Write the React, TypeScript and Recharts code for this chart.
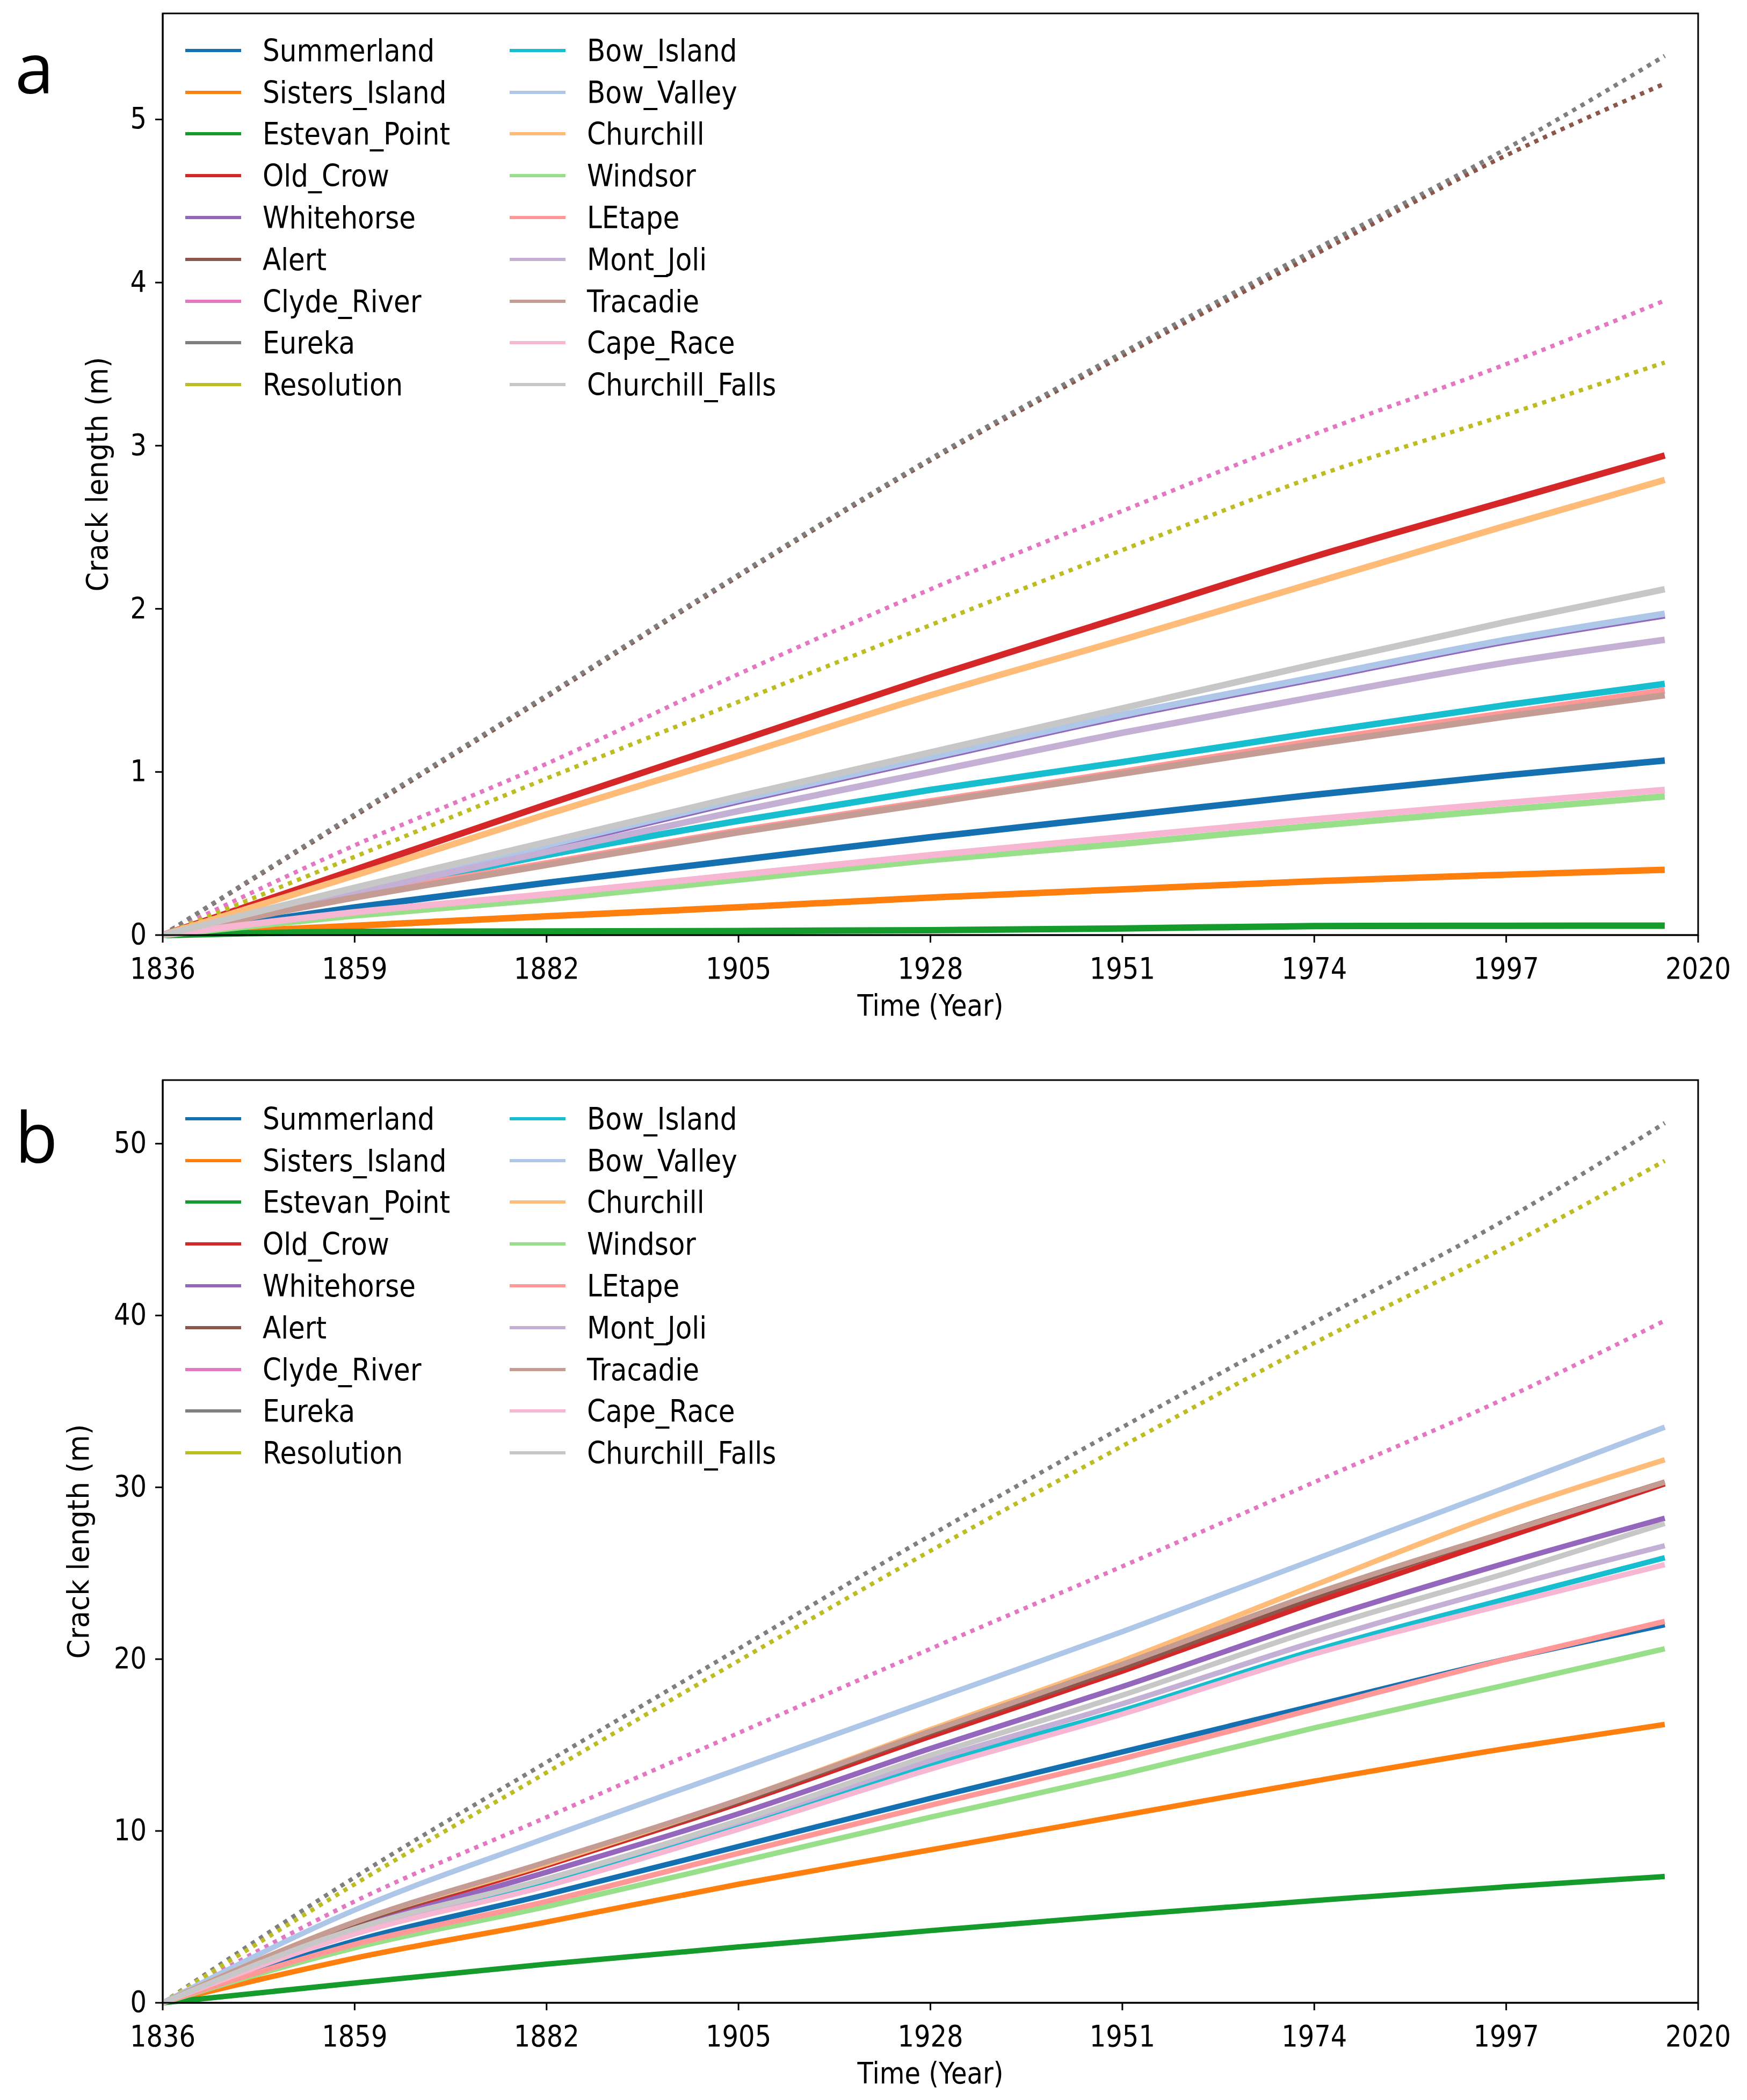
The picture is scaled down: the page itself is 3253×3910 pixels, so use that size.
import React from "react";
import { Legend, Line, LineChart, ReferenceArea, XAxis, YAxis } from "recharts";

// sample years (tick years + last simulated year)
const years = [1836, 1859, 1882, 1905, 1928, 1951, 1974, 1997, 2016];
const xTicks = [1836, 1859, 1882, 1905, 1928, 1951, 1974, 1997, 2020];
const yTicksA = [0, 1, 2, 3, 4, 5];
const yTicksB = [0, 10, 20, 30, 40, 50];

// panel a, crack length (m)
const summerlandA = [0, 0.17, 0.32, 0.46, 0.6, 0.73, 0.86, 0.98, 1.07];
const sistersA = [0, 0.057, 0.115, 0.17, 0.23, 0.28, 0.33, 0.37, 0.4];
const estevanA = [0, 0.02, 0.022, 0.025, 0.03, 0.04, 0.055, 0.057, 0.058];
const oldCrowA = [0, 0.4, 0.8, 1.19, 1.58, 1.95, 2.32, 2.66, 2.94];
const whitehorseA = [0, 0.26, 0.54, 0.82, 1.08, 1.34, 1.57, 1.8, 1.96];
const alertA = [0, 0.73, 1.46, 2.2, 2.91, 3.55, 4.17, 4.78, 5.22];
const clydeA = [0, 0.55, 1.05, 1.6, 2.12, 2.6, 3.07, 3.5, 3.89];
const eurekaA = [0, 0.74, 1.47, 2.21, 2.92, 3.57, 4.2, 4.82, 5.39];
const resolutionA = [0, 0.48, 0.96, 1.43, 1.9, 2.36, 2.81, 3.19, 3.51];
const bowIslandA = [0, 0.25, 0.49, 0.7, 0.89, 1.06, 1.24, 1.41, 1.54];
const bowValleyA = [0, 0.27, 0.55, 0.83, 1.09, 1.35, 1.58, 1.81, 1.97];
const churchillA = [0, 0.365, 0.74, 1.1, 1.47, 1.81, 2.16, 2.51, 2.79];
const windsorA = [0, 0.12, 0.22, 0.34, 0.46, 0.56, 0.67, 0.77, 0.85];
const letapeA = [0, 0.24, 0.44, 0.64, 0.82, 1.0, 1.19, 1.36, 1.5];
const montJoliA = [0, 0.26, 0.51, 0.76, 1.0, 1.24, 1.46, 1.67, 1.81];
const tracadieA = [0, 0.23, 0.43, 0.63, 0.81, 0.99, 1.17, 1.34, 1.47];
const capeRaceA = [0, 0.14, 0.25, 0.37, 0.49, 0.6, 0.71, 0.81, 0.89];
const churchillFallsA = [0, 0.29, 0.57, 0.85, 1.12, 1.39, 1.66, 1.92, 2.12];

// panel b, crack length (m)
const summerlandB = [0, 3.6, 6.3, 9.1, 11.9, 14.6, 17.3, 20.0, 22.0];
const sistersB = [0, 2.6, 4.7, 6.9, 8.9, 10.9, 12.9, 14.8, 16.2];
const estevanB = [0, 1.15, 2.25, 3.25, 4.2, 5.1, 5.95, 6.75, 7.35];
const oldCrowB = [0, 4.5, 8.0, 11.6, 15.5, 19.3, 23.3, 27.1, 30.2];
const whitehorseB = [0, 4.3, 7.6, 11.0, 14.8, 18.4, 22.2, 25.6, 28.2];
const alertB = [0, 4.6, 8.1, 11.7, 15.7, 19.5, 23.6, 27.4, 30.3];
const clydeB = [0, 5.9, 10.8, 15.7, 20.6, 25.4, 30.3, 35.2, 39.7];
const eurekaB = [0, 7.3, 14.0, 20.6, 27.2, 33.5, 39.6, 45.6, 51.2];
const resolutionB = [0, 6.9, 13.4, 19.9, 26.3, 32.4, 38.4, 44.0, 49.0];
const bowIslandB = [0, 4.1, 7.1, 10.4, 13.9, 17.0, 20.5, 23.5, 25.9];
const bowValleyB = [0, 5.4, 9.6, 13.6, 17.6, 21.6, 25.8, 30.0, 33.5];
const churchillB = [0, 4.7, 8.1, 11.8, 15.9, 19.9, 24.3, 28.6, 31.6];
const windsorB = [0, 3.2, 5.6, 8.2, 10.8, 13.3, 16.0, 18.5, 20.6];
const letapeB = [0, 3.4, 5.9, 8.7, 11.5, 14.2, 17.1, 20.0, 22.2];
const montJoliB = [0, 4.2, 7.2, 10.5, 14.1, 17.4, 21.0, 24.2, 26.6];
const tracadieB = [0, 4.7, 8.2, 11.8, 15.8, 19.7, 23.8, 27.4, 30.3];
const capeRaceB = [0, 4.0, 6.8, 10.1, 13.6, 16.8, 20.3, 23.2, 25.5];
const churchillFallsB = [0, 4.3, 7.2, 10.6, 14.4, 17.9, 21.7, 25.0, 27.9];

const stations = [
  { name: "Summerland", color: "#1570b2", a: summerlandA, b: summerlandB },
  { name: "Sisters_Island", color: "#ff7f0e", a: sistersA, b: sistersB },
  { name: "Estevan_Point", color: "#149b2c", a: estevanA, b: estevanB },
  { name: "Old_Crow", color: "#d62728", a: oldCrowA, b: oldCrowB },
  { name: "Whitehorse", color: "#9467bd", a: whitehorseA, b: whitehorseB },
  { name: "Alert", color: "#8c564b", a: alertA, b: alertB, dottedA: true },
  { name: "Clyde_River", color: "#e377c2", a: clydeA, b: clydeB, dottedA: true, dottedB: true },
  { name: "Eureka", color: "#7f7f7f", a: eurekaA, b: eurekaB, dottedA: true, dottedB: true },
  { name: "Resolution", color: "#bcbd22", a: resolutionA, b: resolutionB, dottedA: true, dottedB: true },
  { name: "Bow_Island", color: "#17becf", a: bowIslandA, b: bowIslandB },
  { name: "Bow_Valley", color: "#aec7e8", a: bowValleyA, b: bowValleyB },
  { name: "Churchill", color: "#ffbb78", a: churchillA, b: churchillB },
  { name: "Windsor", color: "#98df8a", a: windsorA, b: windsorB },
  { name: "LEtape", color: "#ff9896", a: letapeA, b: letapeB },
  { name: "Mont_Joli", color: "#c5b0d5", a: montJoliA, b: montJoliB },
  { name: "Tracadie", color: "#c49c94", a: tracadieA, b: tracadieB },
  { name: "Cape_Race", color: "#f7b6d2", a: capeRaceA, b: capeRaceB },
  { name: "Churchill_Falls", color: "#c7c7c7", a: churchillFallsA, b: churchillFallsB },
];

const buildRows = (panel: "a" | "b") =>
  years.map((year, i) => {
    const row: Record<string, number> = { year };
    stations.forEach((s) => {
      row[s.name] = s[panel][i];
    });
    return row;
  });

const FONT = "DejaVu Sans";
const STRETCH = 1.15;
const W = 3253;

function XTick({ x, y, payload }: any) {
  return (
    <text
      transform={`translate(${x},${y + 67}) scale(1,${STRETCH})`}
      textAnchor="middle"
      fontSize={48}
      fontFamily={FONT}
      fill="#000"
    >
      {payload.value}
    </text>
  );
}

function YTick({ x, y, payload }: any) {
  return (
    <text
      transform={`translate(${x - 16},${y + 17}) scale(1,${STRETCH})`}
      textAnchor="end"
      fontSize={48}
      fontFamily={FONT}
      fill="#000"
    >
      {payload.value}
    </text>
  );
}

function StationLegend() {
  return (
    <div
      style={{
        display: "grid",
        gridTemplateColumns: "604px 600px",
        gridTemplateRows: "repeat(9, 77.8px)",
        gridAutoFlow: "column",
      }}
    >
      {stations.map((s) => (
        <div key={s.name} style={{ display: "flex", alignItems: "center" }}>
          <div style={{ width: 104, height: 6, background: s.color }} />
          <span
            style={{
              marginLeft: 40,
              fontSize: 50,
              fontFamily: FONT,
              lineHeight: 1,
              display: "inline-block",
              transform: `scaleY(${STRETCH})`,
              whiteSpace: "nowrap",
              color: "#000",
            }}
          >
            {s.name}
          </span>
        </div>
      ))}
    </div>
  );
}

interface PanelProps {
  panel: "a" | "b";
  top: number;
  height: number;
  marginTop: number;
  marginBottom: number;
  yMax: number;
  yTicks: number[];
  yLabelX: number;
  legendTop: number;
}

function Panel({ panel, top, height, marginTop, marginBottom, yMax, yTicks, yLabelX, legendTop }: PanelProps) {
  const rows = buildRows(panel);
  return (
    <div style={{ position: "absolute", left: 0, top, width: W, height }}>
      <LineChart
        width={W}
        height={height}
        data={rows}
        margin={{ top: marginTop, right: 91, bottom: marginBottom, left: 0 }}
      >
        <XAxis
          dataKey="year"
          type="number"
          domain={[1836, 2020]}
          ticks={xTicks}
          interval={0}
          height={150}
          tickSize={14}
          tickMargin={0}
          axisLine={{ stroke: "#000", strokeWidth: 3 }}
          tickLine={{ stroke: "#000", strokeWidth: 3 }}
          tick={(p: any) => <XTick {...p} />}
          label={{
            content: (p: any) => {
              const vb = p.viewBox;
              return (
                <text
                  transform={`translate(${vb.x + vb.width / 2},${vb.y + 150}) scale(1,${STRETCH})`}
                  textAnchor="middle"
                  fontSize={48}
                  fontFamily={FONT}
                  fill="#000"
                >
                  Time (Year)
                </text>
              );
            },
          }}
        />
        <YAxis
          type="number"
          domain={[0, yMax]}
          ticks={yTicks}
          interval={0}
          width={303}
          tickSize={14}
          tickMargin={0}
          axisLine={{ stroke: "#000", strokeWidth: 3 }}
          tickLine={{ stroke: "#000", strokeWidth: 3 }}
          tick={(p: any) => <YTick {...p} />}
          label={{
            content: (p: any) => {
              const vb = p.viewBox;
              return (
                <text
                  transform={`translate(${yLabelX},${vb.y + vb.height / 2}) rotate(-90) scale(1.08,${STRETCH})`}
                  textAnchor="middle"
                  fontSize={48}
                  fontFamily={FONT}
                  fill="#000"
                >
                  Crack length (m)
                </text>
              );
            },
          }}
        />
        {stations.map((s: any) => {
          const dotted = panel === "a" ? s.dottedA : s.dottedB;
          return (
            <Line
              key={s.name}
              dataKey={s.name}
              type="monotone"
              stroke={s.color}
              strokeWidth={dotted ? 8 : panel === "a" ? 12 : 10}
              strokeDasharray={dotted ? "8 10" : undefined}
              dot={false}
              activeDot={false}
              isAnimationActive={false}
            />
          );
        })}
        <ReferenceArea
          x1={1836}
          x2={2020}
          y1={0}
          y2={yMax}
          fill="none"
          fillOpacity={0}
          stroke="#000"
          strokeWidth={3}
          ifOverflow="visible"
        />
        <Legend
          layout="horizontal"
          verticalAlign="middle"
          align="center"
          content={() => <StationLegend />}
          wrapperStyle={{ left: 345, top: legendTop, width: 1250, height: 710 }}
        />
      </LineChart>
    </div>
  );
}

export default function App() {
  return (
    <div
      style={{
        position: "absolute",
        left: 0,
        top: 0,
        width: W,
        height: 3910,
        background: "#fff",
        overflow: "hidden",
      }}
    >
      <Panel
        panel="a"
        top={0}
        height={1950}
        marginTop={25}
        marginBottom={59}
        yMax={5.65}
        yTicks={yTicksA}
        yLabelX={200}
        legendTop={55}
      />
      <Panel
        panel="b"
        top={1950}
        height={1960}
        marginTop={61}
        marginBottom={31}
        yMax={53.7}
        yTicks={yTicksB}
        yLabelX={165}
        legendTop={94}
      />
      <svg style={{ position: "absolute", left: 0, top: 0 }} width={220} height={2300}>
        <text x={28} y={174} fontSize={130} fontFamily="Open Sans" fill="#000">
          a
        </text>
        <text x={28} y={2165} fontSize={130} fontFamily="Open Sans" fill="#000">
          b
        </text>
      </svg>
    </div>
  );
}
